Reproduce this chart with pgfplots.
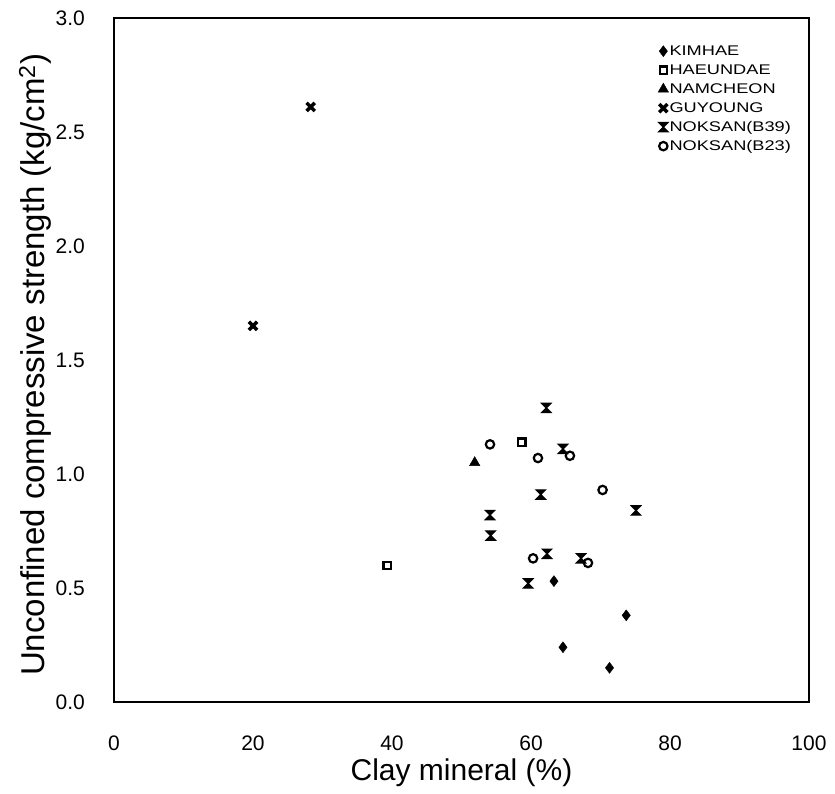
\documentclass[border=0pt]{standalone}
\usepackage{fontspec}
\setmainfont{Liberation Sans}
\usepackage{graphicx}
\usepackage{pgfplots}
\pgfplotsset{compat=1.18}

\pgfdeclareplotmark{hourglass}{%
  \pgfpathmoveto{\pgfqpoint{-\pgfplotmarksize}{\pgfplotmarksize}}%
  \pgfpathlineto{\pgfqpoint{\pgfplotmarksize}{\pgfplotmarksize}}%
  \pgfpathlineto{\pgfqpoint{-\pgfplotmarksize}{-\pgfplotmarksize}}%
  \pgfpathlineto{\pgfqpoint{\pgfplotmarksize}{-\pgfplotmarksize}}%
  \pgfpathclose
  \pgfusepathqfillstroke}

\begin{document}
\begin{tikzpicture}
\path[use as bounding box] (-114pt,-91pt) rectangle (721pt,702pt);
\begin{axis}[
  at={(0,0)}, anchor=south west,
  scale only axis, width=695pt, height=684pt,
  xmin=0, xmax=100, ymin=0, ymax=3,
  xtick={0,20,40,60,80,100},
  ytick={0,0.5,1,1.5,2,2.5,3},
  major tick length=0pt,
  axis line style={line width=1.5pt},
  tick label style={font=\fontsize{21}{25}\selectfont, inner sep=0pt},
  /pgf/number format/assume math mode=true,
  yticklabel style={/pgf/number format/fixed, /pgf/number format/fixed zerofill, /pgf/number format/precision=1, xshift=-29pt},
  xticklabel style={yshift=-34pt},
  xlabel={Clay mineral (\%)},
  xlabel style={font=\fontsize{30}{36}\selectfont, at={(axis description cs:0.5,0)}, anchor=base, yshift=-78pt},
  ylabel={Unconfined compressive strength (kg/cm\textsuperscript{2})},
  ylabel style={font=\fontsize{33}{40}\selectfont, at={(axis description cs:-0.1137,0.493)}, anchor=center},
  legend style={at={(axis description cs:0.98,0.965)}, anchor=north east, draw=none, fill=none,
    font=\fontsize{14}{16}\selectfont, row sep=5pt,
    nodes={inner sep=1pt, text height=10pt, text depth=2pt}},
  legend cell align=left,
  legend image code/.code={\draw[mark repeat=2,mark phase=2] plot coordinates {(0cm,0cm) (0.2cm,0cm) (0.4cm,0cm)};},
]
\addplot[only marks, mark=diamond*, mark size=5.5pt, black] coordinates {
 (63.3,0.53) (73.7,0.38) (64.6,0.24) (71.3,0.15)};
\addlegendentry{\scalebox{1.3}[1]{KIMHAE}}
\addplot[only marks, mark=square, mark size=3.6pt, black, line width=2.2pt] coordinates {
 (58.7,1.14) (39.3,0.60)};
\addlegendentry{\scalebox{1.3}[1]{HAEUNDAE}}
\addplot[only marks, mark=triangle*, mark size=6pt, black] coordinates {
 (51.9,1.05)};
\addlegendentry{\scalebox{1.3}[1]{NAMCHEON}}
\addplot[only marks, mark=x, mark size=5.8pt, black, line width=3.5pt] coordinates {
 (20.0,1.65) (28.3,2.61)};
\addlegendentry{\scalebox{1.3}[1]{GUYOUNG}}
\addplot[only marks, mark=hourglass, mark size=4.6pt, black, line width=1.3pt] coordinates {
 (62.2,1.29) (64.6,1.11) (61.4,0.91) (75.1,0.84) (54.1,0.82) (54.2,0.73) (62.3,0.65) (67.2,0.63) (59.6,0.52)};
\addlegendentry{\scalebox{1.3}[1]{NOKSAN(B39)}}
\addplot[only marks, mark=o, mark size=4.2pt, black, line width=2.2pt] coordinates {
 (54.1,1.13) (61.0,1.07) (65.6,1.08) (70.3,0.93) (60.3,0.63) (68.2,0.61)};
\addlegendentry{\scalebox{1.3}[1]{NOKSAN(B23)}}
\end{axis}
\end{tikzpicture}
\end{document}
